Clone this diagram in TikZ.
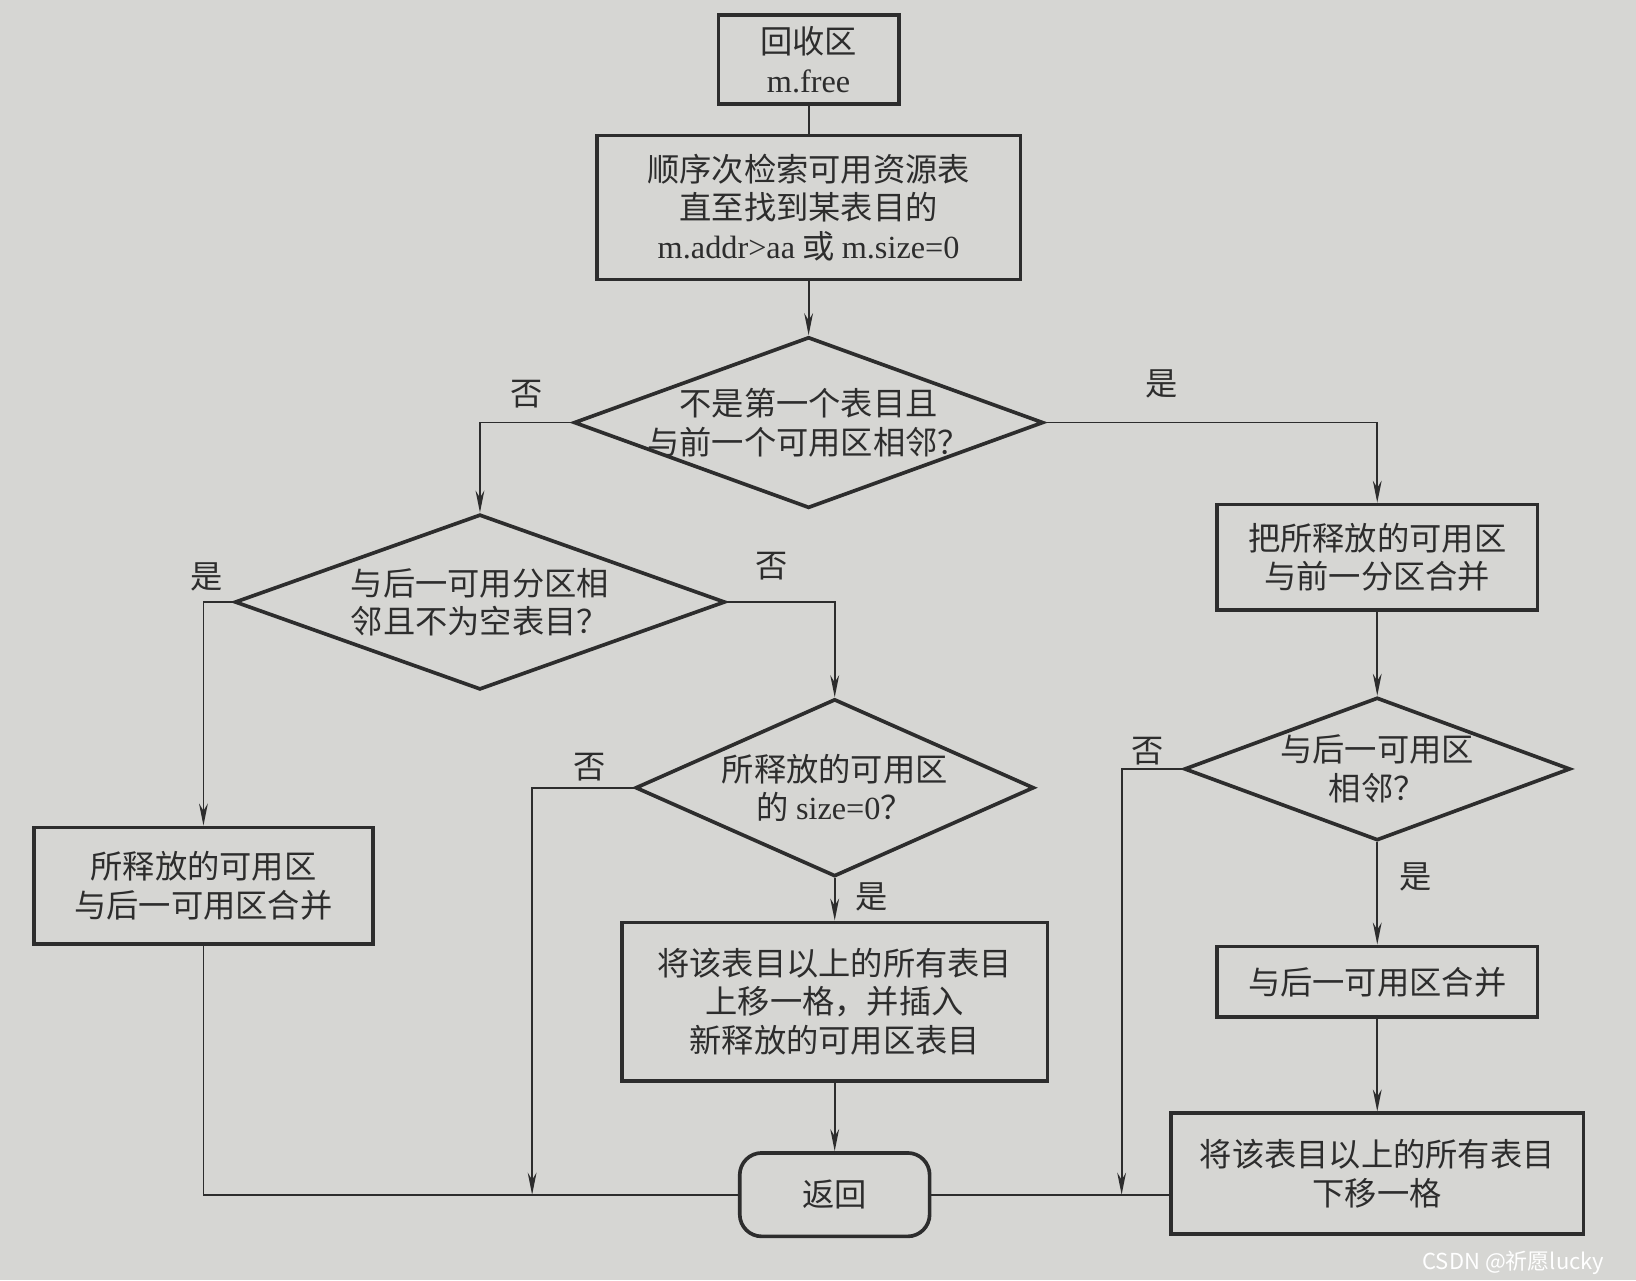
\documentclass[tikz,border=0pt]{standalone}
\usepackage{fontspec}
\usepackage{tikz}
\usepackage{xcolor}
\setmainfont{Liberation Serif}
\newfontfamily\cjk{Noto Sans CJK SC}
\usetikzlibrary{arrows.meta, positioning, shapes.geometric}
\definecolor{carta}{RGB}{214,214,211}
\definecolor{inchiostro}{RGB}{45,45,45}
\newcommand{\latn}[1]{{\rmfamily #1}}

\begin{document}
\begin{tikzpicture}[
    box/.style={rectangle, draw=inchiostro, line width=1pt, align=center,
                inner sep=2pt, text=inchiostro, font=\cjk\fontsize{8.8}{10.5}\selectfont},
    dec/.style={diamond, draw=inchiostro, line width=1pt, align=center,
                inner sep=-8pt, text=inchiostro, font=\cjk\fontsize{8.8}{10.5}\selectfont},
    arr/.style={-{Stealth[length=6pt,width=2.4pt]}, line width=0.5pt, draw=inchiostro},
    lnk/.style={line width=0.5pt, draw=inchiostro},
    lbl/.style={text=inchiostro, font=\cjk\fontsize{8.8}{10.5}\selectfont}
]
\useasboundingbox (0,0) rectangle (15.68,-12.27);
\fill[carta] (0,0) rectangle (15.68,-12.27);

\node[box, minimum width=1.73cm, minimum height=0.85cm] (start) at (7.75,-0.57) {回收区\\\latn{m.free}};
\node[box, minimum width=4.06cm, minimum height=1.38cm] (search) at (7.75,-1.99)
    {顺序次检索可用资源表\\直至找到某表目的\\\latn{m.addr>aa} 或 \latn{m.size=0}};
\node[dec, aspect=2.74, minimum width=4.5cm, minimum height=1.64cm] (d1) at (7.75,-4.05) {不是第一个表目且\\与前一个可用区相邻？};
\node[box, minimum width=3.07cm, minimum height=1.01cm] (r1) at (13.2,-5.34) {把所释放的可用区\\与前一分区合并};
\node[dec, aspect=2.8, minimum width=4.7cm, minimum height=1.68cm] (d2) at (4.6,-5.77) {与后一可用分区相\\邻且不为空表目？};
\node[box, minimum width=3.25cm, minimum height=1.12cm] (l1) at (1.95,-8.49) {所释放的可用区\\与后一可用区合并};
\node[dec, aspect=2.25, minimum width=3.82cm, minimum height=1.7cm] (d3) at (8.0,-7.55) {所释放的可用区\\的 \latn{size=0}？};
\node[box, minimum width=4.08cm, minimum height=1.52cm] (m) at (8.0,-9.6)
    {将该表目以上的所有表目\\上移一格，并插入\\新释放的可用区表目};
\node[box, rounded corners=6pt, minimum width=1.82cm, minimum height=0.8cm] (ret) at (8.0,-11.45) {返回};
\node[dec, aspect=2.7, minimum width=3.7cm, minimum height=1.37cm] (d4) at (13.2,-7.37) {与后一可用区\\相邻？};
\node[box, minimum width=3.07cm, minimum height=0.68cm] (r2) at (13.2,-9.41) {与后一可用区合并};
\node[box, minimum width=3.95cm, minimum height=1.16cm] (r3) at (13.2,-11.25) {将该表目以上的所有表目\\下移一格};

\coordinate (j1) at (5.1,-11.45);
\coordinate (j2) at (10.75,-11.45);

% 是 / 否
\node[lbl] (n1) at (5.05,-3.78) {否};
\node[lbl] (y1) at (11.13,-3.68) {是};
\node[lbl] (y2) at (1.98,-5.53) {是};
\node[lbl] (n2) at (7.4,-5.43) {否};
\node[lbl] (n3) at (5.65,-7.35) {否};
\node[lbl] (y3) at (8.35,-8.6) {是};
\node[lbl] (n4) at (11.0,-7.2) {否};
\node[lbl] (y4) at (13.57,-8.4) {是};

\draw[lnk] (start) -- (search);
\draw[arr] (search) -- (d1);
\draw[arr] (d1.west) -| (d2.north);
\draw[arr] (d1.east) -| (r1.north);
\draw[arr] (d2.west) -| (l1.north);
\draw[arr] (d2.east) -| (d3.north);
\draw[arr] (d3.west) -| (j1);
\draw[arr] (d3.south) -- (m.north);
\draw[arr] (m.south) -- (ret.north);
\draw[arr] (r1.south) -- (d4.north);
\draw[arr] (d4.south) -- (r2.north);
\draw[arr] (r2.south) -- (r3.north);
\draw[arr] (d4.west) -| (j2);
\draw[lnk] (l1.south) |- (ret.west);
\draw[lnk] (r3.west |- ret.east) -- (ret.east);

\node[font=\cjk\fontsize{6}{7}\selectfont, text=white, anchor=east] (wm) at (15.5,-12.1) {CSDN @祈愿lucky};
\end{tikzpicture}
\end{document}
